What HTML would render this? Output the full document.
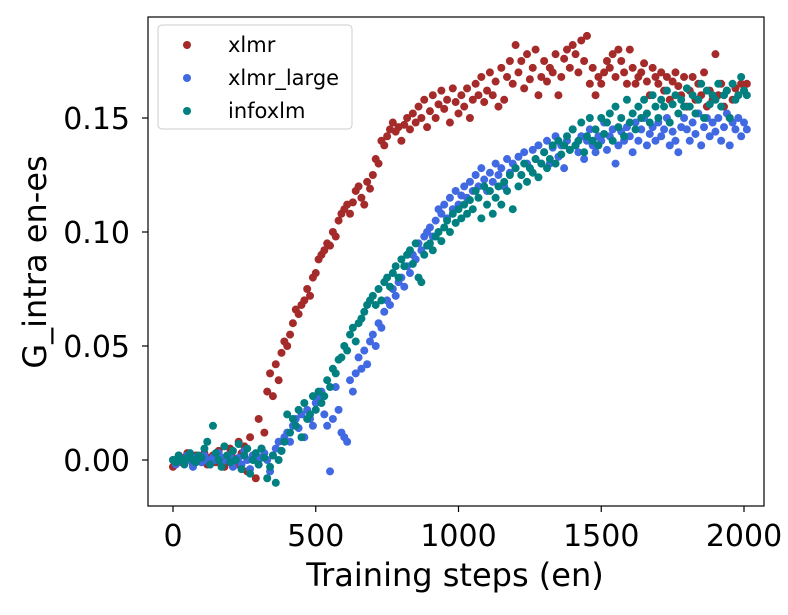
<!DOCTYPE html>
<html><head><meta charset="utf-8"><style>
body{margin:0;background:#fff;font-family:"Liberation Sans","DejaVu Sans",sans-serif;}
svg text{font-family:"DejaVu Sans","Liberation Sans",sans-serif;fill:#000;}
</style></head><body>
<svg id="chart" width="788" height="610" viewBox="0 0 788 610" xmlns="http://www.w3.org/2000/svg">
<g id="marks"></g>
<rect x="148" y="17" width="616" height="489" fill="none" stroke="#000" stroke-width="1.2"/>
<g id="axes"></g>
<text x="455" y="586" font-size="32" text-anchor="middle">Training steps (en)</text>
<text transform="translate(46,262) rotate(-90)" font-size="32" text-anchor="middle">G_intra en-es</text>
<g>
<rect x="158" y="25" width="194" height="104" rx="4" fill="#fff" fill-opacity="0.8" stroke="#ccc"/>
<circle cx="187" cy="45" r="4" fill="#a52a2a"/>
<text x="228" y="52" font-size="21">xlmr</text>
<circle cx="187" cy="78" r="4" fill="#4169e1"/>
<text x="228" y="85" font-size="21">xlmr_large</text>
<circle cx="187" cy="111" r="4" fill="#008080"/>
<text x="228" y="118" font-size="21">infoxlm</text>
</g>
</svg>
<script>
const stepSize = 10;
const xTicks = [0, 500, 1000, 1500, 2000];
const yTicks = [0, 0.05, 0.10, 0.15];
const yTickLabels = ["0.00", "0.05", "0.10", "0.15"];
const xlmr = [
-3,0,2,-1,1,3,0,-2,2,1,
0,3,-2,1,2,-1,4,0,-3,2,
5,1,-2,8,3,6,-5,10,2,-8,
18,5,12,30,38,28,42,35,47,52,
50,55,60,66,64,68,70,75,72,80,
82,88,90,92,95,94,100,98,105,108,
110,112,108,113,118,120,115,112,122,119,
125,132,130,140,138,142,145,148,144,146,
140,147,150,145,152,148,155,150,158,146,
153,160,150,156,162,154,158,148,163,157,
152,160,155,163,150,158,165,160,168,157,
162,170,160,166,155,172,158,168,175,165,
182,170,175,163,178,167,172,180,160,168,
175,166,172,170,178,160,168,176,180,172,
182,178,170,184,175,186,165,172,160,168,
165,170,175,172,178,168,180,175,170,165,
180,172,165,168,170,174,166,160,172,168,
165,170,162,168,158,166,170,164,160,168,
155,162,168,158,165,160,170,155,162,158,
178,160,165,155,162,150,158,163,160,165,
162,165];
const xlmrLarge = [
0,-2,1,0,-1,2,0,-3,1,0,
-1,2,0,-2,1,0,3,-1,1,0,
2,-3,0,1,-2,4,0,-4,2,0,
-2,1,3,0,-5,2,5,8,4,10,
12,8,15,18,14,20,10,22,18,15,
25,28,30,20,15,-5,18,32,22,12,
10,8,35,30,38,45,40,48,42,52,
55,50,60,58,65,70,68,75,72,78,
80,76,85,82,90,88,95,92,98,100,
102,98,105,110,108,112,106,115,110,118,
112,116,120,115,122,118,125,120,128,123,
118,126,122,130,125,128,120,132,126,130,
128,133,125,135,130,128,136,132,138,130,
135,140,130,137,142,133,138,128,140,136,
145,138,135,142,132,140,145,138,135,142,
140,148,136,142,145,130,138,144,140,146,
142,135,148,140,145,150,138,143,146,140,
148,142,145,150,138,144,140,135,146,150,
145,140,148,143,152,138,146,150,142,148,
144,150,140,146,152,138,148,145,150,142,
148,145];
const infoxlm = [
0,-1,2,0,-2,1,3,0,-1,2,
1,5,8,-2,15,3,0,-3,6,2,
-1,4,0,7,-4,2,5,-6,0,3,
-2,5,1,-8,-3,2,-10,0,4,8,
20,12,18,15,22,10,25,18,20,28,
22,30,25,28,35,32,40,38,44,45,
50,48,55,58,52,60,62,65,68,70,
72,68,75,70,78,80,76,82,85,80,
88,85,90,92,86,95,80,78,90,94,
95,92,98,100,96,102,105,100,108,104,
110,106,112,108,114,110,118,115,106,120,
112,118,108,115,120,112,122,118,125,110,
128,120,125,130,122,128,126,132,124,130,
135,128,132,138,130,140,134,138,142,136,
145,138,140,148,135,142,150,140,145,138,
150,143,148,152,140,155,146,150,142,158,
148,152,145,155,150,158,152,148,160,155,
150,158,155,162,148,156,160,152,158,155,
163,155,160,152,158,165,150,162,156,160,
158,165,155,160,162,150,165,158,160,168,
162,160];
const series = [
  {name:'xlmr', values:xlmr, color:'#a52a2a'},
  {name:'xlmr-large', values:xlmrLarge, color:'#4169e1'},
  {name:'infoxlm', values:infoxlm, color:'#008080'}
];
function xScale(v){return 173 + v*(571/2000);}
function yScale(v){return 460 - v*2280;}
const NS='http://www.w3.org/2000/svg';
const marks=document.getElementById('marks');
series.forEach(s=>{
  const g=document.createElementNS(NS,'g');
  
  
  s.values.forEach((v,i)=>{
    const c=document.createElementNS(NS,'circle');
    c.setAttribute('cx',xScale(i*stepSize));
    c.setAttribute('cy',yScale(v/1000));
    c.setAttribute('r',4);
    c.setAttribute('fill',s.color);
    
    
    g.appendChild(c);
  });
  marks.appendChild(g);
});
const axes=document.getElementById('axes');
xTicks.forEach(t=>{
  const x=xScale(t);
  const l=document.createElementNS(NS,'line');
  l.setAttribute('x1',x);l.setAttribute('x2',x);l.setAttribute('y1',506);l.setAttribute('y2',512);
  l.setAttribute('stroke','#000');l.setAttribute('stroke-width','1.2');
  
  
  axes.appendChild(l);
  const tx=document.createElementNS(NS,'text');
  tx.setAttribute('x',x);tx.setAttribute('y',546);tx.setAttribute('font-size','30');tx.setAttribute('text-anchor','middle');
  tx.textContent=String(t);
  
  
  axes.appendChild(tx);
});
yTicks.forEach((t,i)=>{
  const y=yScale(t);
  const l=document.createElementNS(NS,'line');
  l.setAttribute('x1',142);l.setAttribute('x2',148);l.setAttribute('y1',y);l.setAttribute('y2',y);
  l.setAttribute('stroke','#000');l.setAttribute('stroke-width','1.2');
  
  
  axes.appendChild(l);
  const tx=document.createElementNS(NS,'text');
  tx.setAttribute('x',130);tx.setAttribute('y',y+11);tx.setAttribute('font-size','30');tx.setAttribute('text-anchor','end');
  tx.textContent=yTickLabels[i];
  
  
  axes.appendChild(tx);
});
</script>
</body></html>
